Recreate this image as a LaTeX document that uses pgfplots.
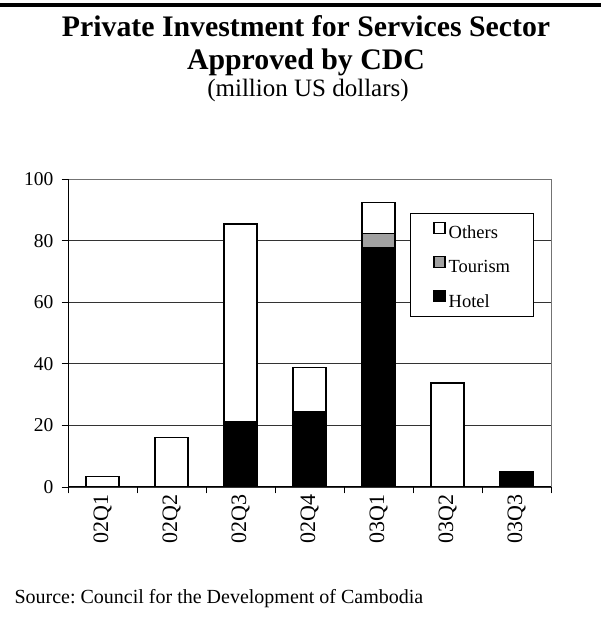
\documentclass[border=0pt]{standalone}
\usepackage{pgfplots}
\pgfplotsset{compat=1.18}
\usepackage{fontspec}
\setmainfont{Liberation Serif}
\frenchspacing

\pgfplotsset{
    bars/.style = {
        draw=black,
        line width=1.3bp,
    },
}

\begin{document}
\begin{tikzpicture}[x=1bp,y=1bp]
    \useasboundingbox (0,0) rectangle (601,637);
    % rule across the top
    \draw[line width=4bp] (0,631.7) -- (601,631.7);
    \node[anchor=base,font=\fontsize{29.8bp}{29.8bp}\selectfont\bfseries] at (306,600) {Private Investment for Services Sector};
    \node[anchor=base,font=\fontsize{29.8bp}{29.8bp}\selectfont\bfseries] at (306,567) {Approved by CDC};
    \node[anchor=base,font=\fontsize{25bp}{25bp}\selectfont] at (308,540) {(million US dollars)};

    \begin{axis}[
        at={(68bp,150bp)}, anchor=south west,
        scale only axis, width=483bp, height=307.7bp,
        ybar stacked, bar width=33bp,
        xmin=-0.5, xmax=6.5, ymin=0, ymax=100,
        xtick={-0.5,0.5,1.5,2.5,3.5,4.5,5.5,6.5},
        x tick label as interval,
        xticklabels={02Q1,02Q2,02Q3,02Q4,03Q1,03Q2,03Q3},
        ytick={0,20,40,60,80,100},
        ymajorgrids, grid style={black!80, line width=0.9bp},
        tick align=outside, xtick pos=bottom, ytick pos=left,
        major tick length=6.5bp,
        tick style={black, line width=0.9bp},
        axis line style={black!55, line width=1bp},
        /pgf/number format/assume math mode=true,
        yticklabel style={font=\fontsize{19.5bp}{19.5bp}\selectfont, inner xsep=8bp},
        xticklabel style={font=\fontsize{22bp}{22bp}\selectfont, rotate=90, anchor=east, inner xsep=1bp},
        reverse legend,
        legend image code/.code={\path (0bp,0bp); \draw[#1, line width=1.3bp] (0bp,5.5bp) rectangle (11bp,16.5bp);},
        legend style={at={(0.708,0.8895)}, anchor=north west,
            draw=black, line width=0.8bp, fill=white,
            font=\fontsize{18.5bp}{18.5bp}\selectfont,
            inner xsep=23bp, inner ysep=8bp,
            row sep=15.5bp, column sep=3bp,
            nodes={inner sep=0pt},
            cells={anchor=base west}},
    ]
        \addplot[bars, fill=black] coordinates {
            (0,0) (1,0) (2,21.2) (3,24.4) (4,77.9) (5,0) (6,5.1)
        };
        \addlegendentry{Hotel}
        \addplot[bars, fill=black!37] coordinates {
            (0,0) (1,0) (2,0) (3,0) (4,4.5) (5,0) (6,0)
        };
        \addlegendentry{Tourism}
        \addplot[bars, fill=white] coordinates {
            (0,3.3) (1,16.0) (2,64.3) (3,14.5) (4,10.1) (5,33.8) (6,0)
        };
        \addlegendentry{Others}

        \draw[black, line width=1.3bp] (rel axis cs:0,1) -- (rel axis cs:0,0) -- (rel axis cs:1,0);
    \end{axis}

    \node[anchor=base west,font=\fontsize{20bp}{20bp}\selectfont] at (11,33) {Source: Council for the Development of Cambodia};
\end{tikzpicture}
\end{document}
